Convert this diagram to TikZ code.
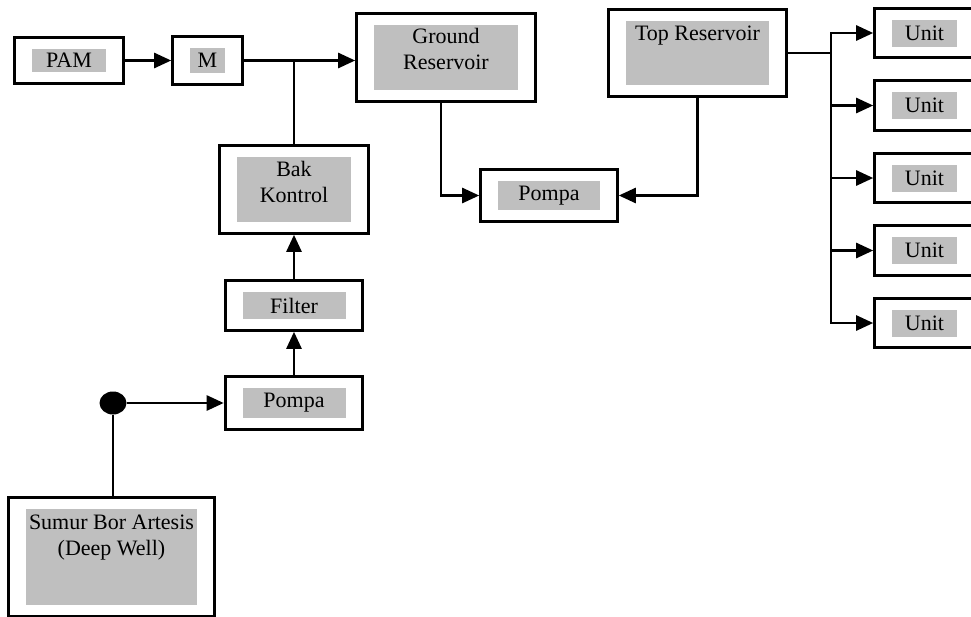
\documentclass[tikz,border=0pt]{standalone}
\usepackage{fontspec}
\setmainfont{Liberation Serif}
\usetikzlibrary{arrows.meta,fit,positioning,shapes.geometric}

\begin{document}
\begin{tikzpicture}[x=1pt,y=-1pt,
    isi/.style={fill=black!25,inner sep=0pt,font=\fontsize{22}{26}\selectfont},
    kotak/.style={draw,line width=3.2pt,inner xsep=17pt,inner ysep=11pt},
    garis/.style={line width=2.6pt},
    panah/.style={garis,-{Triangle[length=17pt,width=15pt]}}]

  \useasboundingbox (0,0) rectangle (971,616);

  % bagian abu-abu (teks)
  \node[isi,minimum width=74pt,minimum height=23pt] (pam-isi) at (69,60.5) {PAM};
  \node[isi,minimum width=35pt,minimum height=25pt] (m-isi) at (207.5,60.5) {M};
  \node[isi] (ground-isi) at (446,57.5)
    {\parbox[c][65pt][t]{144pt}{\centering\rule{0pt}{18pt}Ground\\Reservoir}};
  \node[isi] (top-isi) at (697.5,53)
    {\parbox[c][64pt][t]{143pt}{\centering\rule{0pt}{19pt}Top Reservoir}};
  \node[isi,minimum width=102pt,minimum height=29pt] (pompa1-isi) at (549,195.5) {Pompa};
  \node[isi] (bak-isi) at (294,189.5)
    {\parbox[c][65pt][t]{114pt}{\centering\rule{0pt}{19pt}Bak\\Kontrol}};
  \node[isi,minimum width=103pt,minimum height=27pt] (filter-isi) at (294,305.5) {Filter};
  \node[isi,minimum width=103pt,minimum height=30pt] (pompa2-isi) at (294,403) {Pompa};
  \node[isi] (sumur-isi) at (111.5,557)
    {\parbox[c][96pt][t]{171pt}{\centering\rule{0pt}{20pt}Sumur Bor Artesis\\(Deep Well)}};

  % kotak luar
  \node[kotak,fit=(pam-isi)] (pam) {};
  \node[kotak,fit=(m-isi)] (m) {};
  \node[kotak,fit=(ground-isi)] (ground) {};
  \node[kotak,fit=(top-isi)] (top) {};
  \node[kotak,fit=(pompa1-isi)] (pompa1) {};
  \node[kotak,fit=(bak-isi)] (bak) {};
  \node[kotak,fit=(filter-isi)] (filter) {};
  \node[kotak,fit=(pompa2-isi)] (pompa2) {};
  \node[kotak,fit=(sumur-isi)] (sumur) {};

  \node[ellipse,fill,inner sep=0pt,minimum width=27pt,minimum height=23pt] (sumber) at (113,403) {};
  \coordinate (bus) at ([xshift=43pt]top.east);

  \draw[panah] (pam.east) -- (m.west);
  \draw[panah] (m.east) -- (m.east -| ground.west);
  \draw[garis] (bak.north) -- (bak.north |- m.east);
  \draw[panah] (filter.north) -- (bak.south);
  \draw[panah] (pompa2.north) -- (filter.south);
  \draw[panah] (sumber) -- (pompa2.west);
  \draw[garis] (sumber) -- (sumber |- sumur.north);
  \draw[panah] ([xshift=-5pt]ground.south) |- (pompa1.west);
  \draw[panah] (top.south) |- (pompa1.east);
  \draw[garis] (top.east) -- (bus);

  \foreach \i/\yy in {1/33,2/105.5,3/178,4/250.5,5/323}{
    \node[isi,minimum width=65pt,minimum height=27pt] (unit\i-isi) at (924.5,\yy) {Unit};
    \node[kotak,fit=(unit\i-isi)] (unit\i) {};
    \draw[panah] (bus) |- (unit\i.west);
  }

\end{tikzpicture}
\end{document}
